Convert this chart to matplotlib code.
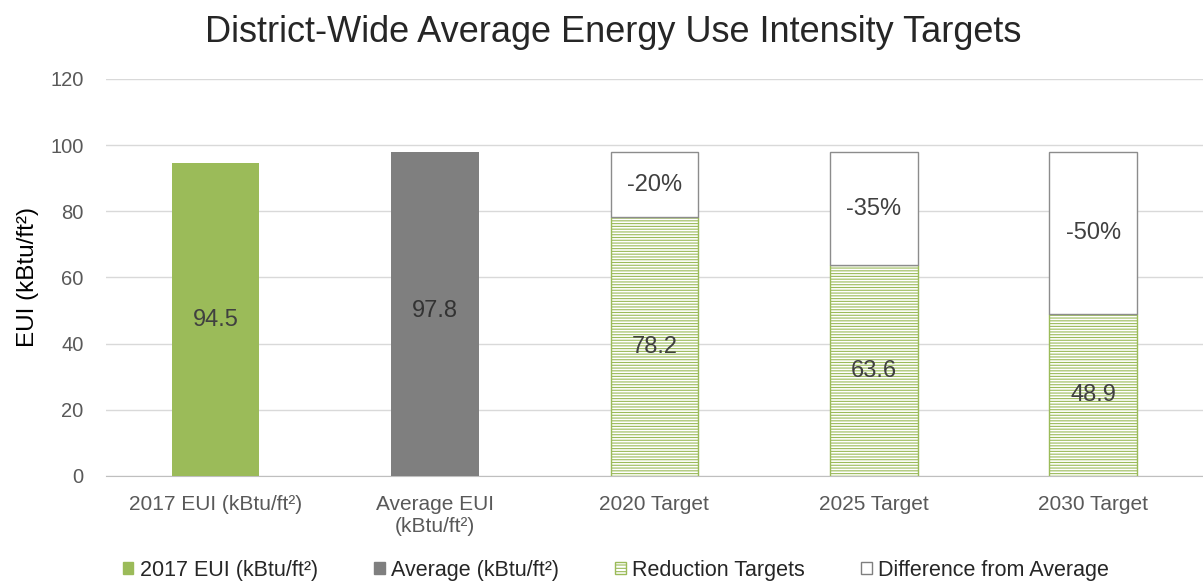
import numpy as np
import matplotlib
matplotlib.use("Agg")
import matplotlib.pyplot as plt
from matplotlib.patches import Patch

plt.rcParams["font.family"] = ["Liberation Sans", "DejaVu Sans"]
plt.rcParams["hatch.linewidth"] = 0.8

# Chart data
categories = ["2017 EUI (kBtu/ft²)", "Average EUI\n(kBtu/ft²)", "2020 Target", "2025 Target", "2030 Target"]
eui_2017 = 94.5
avg_eui = 97.8
target_values = [78.2, 63.6, 48.9]
reduction_labels = ["-20%", "-35%", "-50%"]

green = "#9BBB59"
gray = "#7F7F7F"
text_col = "#404040"

fig, ax = plt.subplots(figsize=(12.03, 5.84), dpi=100)
fig.subplots_adjust(left=0.088, right=1.0, top=0.865, bottom=0.185)

x = np.arange(len(categories))
width = 0.4

ax.bar(x[0], eui_2017, width, color=green, zorder=3)
ax.bar(x[1], avg_eui, width, color=gray, zorder=3)

tx = x[2:]
diffs = [avg_eui - v for v in target_values]
ax.bar(tx, target_values, width, facecolor="white", edgecolor=green, hatch="------",
       linewidth=1.0, zorder=3)
ax.bar(tx, diffs, width, bottom=target_values, facecolor="white", edgecolor="#8C8C8C",
       linewidth=1.0, zorder=3)

# Value labels
ax.text(x[0], eui_2017 / 2, f"{eui_2017}", ha="center", va="center", fontsize=17, color=text_col, zorder=4)
ax.text(x[1], avg_eui / 2 + 1, f"{avg_eui}", ha="center", va="center", fontsize=17, color="#333333", zorder=4)
for xi, v, d, lab in zip(tx, target_values, diffs, reduction_labels):
    ax.text(xi, v / 2, f"{v}", ha="center", va="center", fontsize=17, color=text_col, zorder=4)
    ax.text(xi, v + d / 2, lab, ha="center", va="center", fontsize=17, color=text_col, zorder=4)

ax.set_ylim(0, 120)
ax.set_yticks(range(0, 121, 20))
ax.set_xlim(-0.5, 4.5)
ax.set_xticks(x)
ax.set_xticklabels(categories, fontsize=15, color="#595959", linespacing=1.2)
ax.tick_params(axis="y", labelsize=14.5, labelcolor="#595959", length=0, pad=16)
ax.tick_params(axis="x", length=0, pad=14)
ax.set_ylabel("EUI (kBtu/ft²)", fontsize=17.5, color="black", labelpad=8)

ax.grid(axis="y", color="#D9D9D9", linewidth=1.0, zorder=0)
for s in ["top", "right", "left"]:
    ax.spines[s].set_visible(False)
ax.spines["bottom"].set_color("#BFBFBF")

fig.suptitle("District-Wide Average Energy Use Intensity Targets", fontsize=26, color="#262626",
             x=0.51, y=0.975)

handles = [
    Patch(facecolor=green, edgecolor=green),
    Patch(facecolor=gray, edgecolor=gray),
    Patch(facecolor="white", edgecolor=green, hatch="-----"),
    Patch(facecolor="white", edgecolor="#7F7F7F"),
]
labels = ["2017 EUI (kBtu/ft²)", "Average (kBtu/ft²)", "Reduction Targets", "Difference from Average"]
fig.legend(handles, labels, loc="lower center", bbox_to_anchor=(0.512, -0.028), ncol=4, frameon=False,
           fontsize=15.5, handlelength=0.5, handleheight=0.5, handletextpad=0.3, columnspacing=2.6,
           labelcolor="#262626")

fig.savefig("out.png", dpi=100)
